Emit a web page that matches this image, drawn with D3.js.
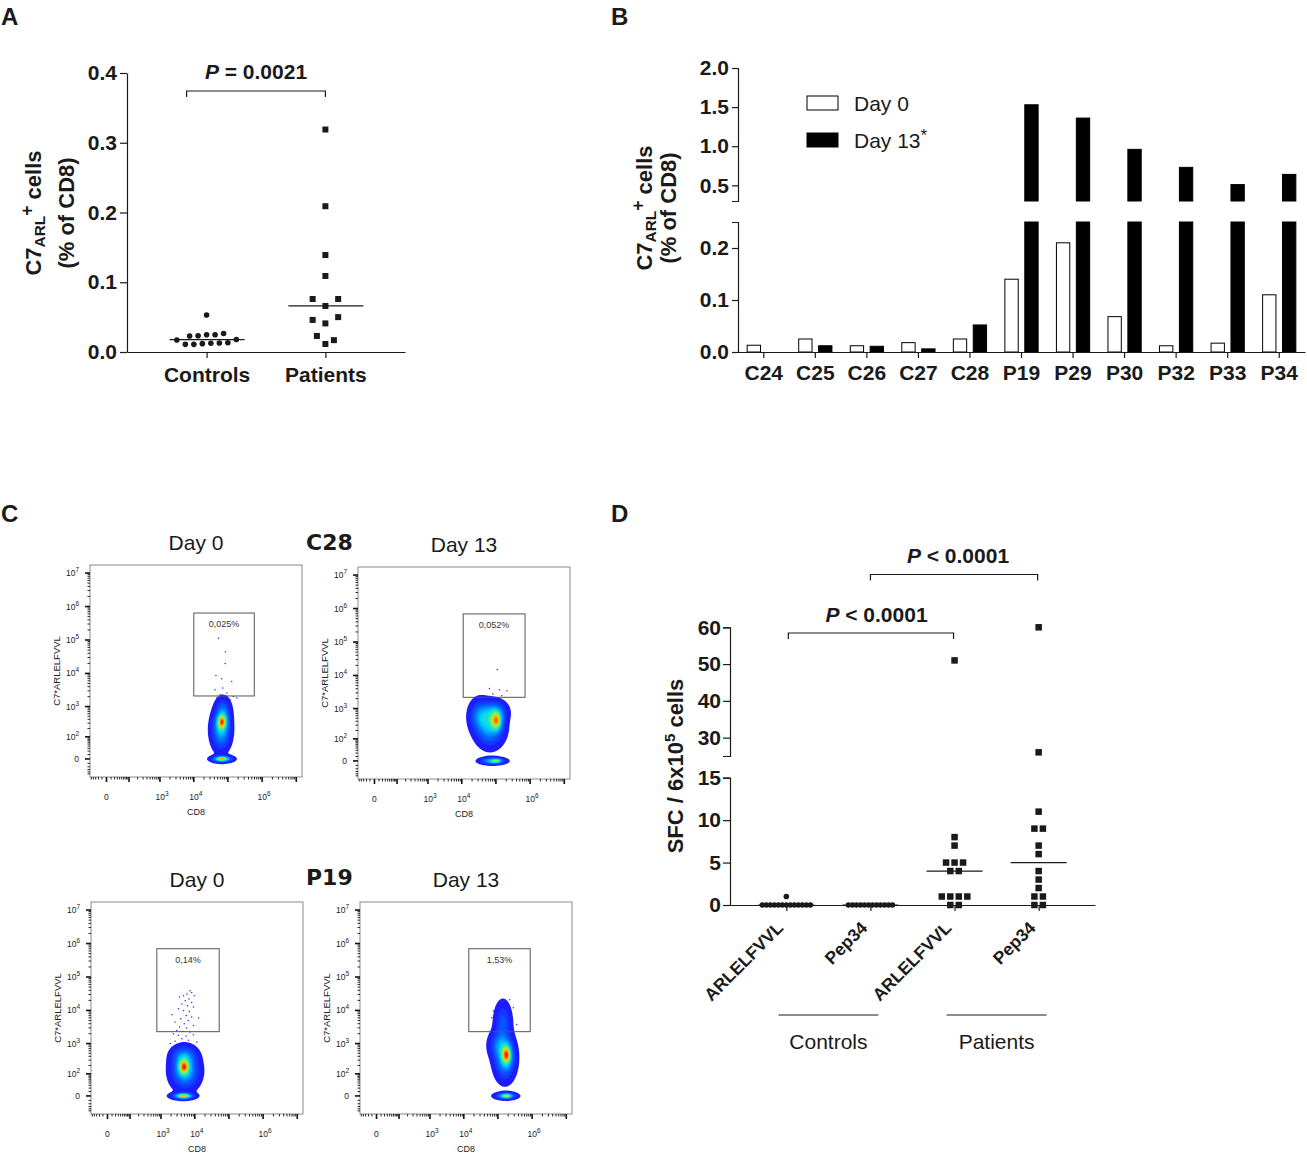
<!DOCTYPE html>
<html>
<head>
<meta charset="utf-8">
<script src="https://cdn.jsdelivr.net/npm/d3@7"></script>
<style>
  body { margin: 0; background: #fff; }
  svg { font-family: Arial, "Liberation Sans", Helvetica, sans-serif; }
</style>
</head>
<body>
<svg id="fig" width="1307" height="1155"></svg>
<script>
// ---------- A : C7ARL+ cells, % of CD8 ----------
const groupsA = ['Controls', 'Patients'];
const controlsA = [0.011, 0.011, 0.012, 0.0125, 0.013, 0.0133, 0.0172, 0.018,
                   0.0229, 0.0234, 0.0248, 0.0248, 0.0265, 0.053];
const patientsA = [0.0115, 0.017, 0.023, 0.041, 0.046, 0.05, 0.066,
                   0.076, 0.076, 0.109, 0.139, 0.209, 0.319];
const ticksA = [0, 0.1, 0.2, 0.3, 0.4];
const pTextA = '= 0.0021';

// ---------- B : per donor, day 0 / day 13 ----------
const donorsB = ['C24', 'C25', 'C26', 'C27', 'C28', 'P19', 'P29', 'P30', 'P32', 'P33', 'P34'];
const seriesB = ['Day 0', 'Day 13'];
const day0B  = [0.013, 0.025, 0.012, 0.018, 0.025, 0.14, 0.21, 0.068, 0.012, 0.017, 0.11];
const day13B = [0, 0.012, 0.011, 0.006, 0.052, 1.53, 1.36, 0.96, 0.73, 0.51, 0.64];
const ticksBLow  = [0, 0.1, 0.2];
const ticksBHigh = [0.5, 1.0, 1.5, 2.0];

// ---------- C : flow plots (C28, P19 x day 0, day 13) ----------
const flowSamples = ['C28', 'P19'];
const flowDays = ['Day 0', 'Day 13'];
const flowGateLabels = ['0,025%', '0,052%', '0,14%', '1,53%'];
// gate: [CD8 min, CD8 max, C7 min, C7 max]
const flowGates = [
    [1.0e4, 5.9e5, 2.1e3, 6.4e5],
    [1.1e4, 7.1e5, 2.2e3, 6.9e5],
    [7.5e2, 5.2e4, 2.3e3, 7.0e5],
    [1.4e4, 8.8e5, 2.3e3, 7.0e5]
];
// density components: [CD8, C7, spread x, spread y, weight]
const flowPopulations = [
    [[6.3e4, 180, 5.5, 11, 0.45], [7.2e4, 680, 4.5, 8, 0.25], [6.7e4, 330, 3, 5, 0.7],
     [6.7e4, 0, 6, 2, 0.55], [6.7e4, 0, 3.5, 1.2, 0.5]],
    [[6.7e4, 283, 8, 11, 0.45], [3.4e4, 590, 6, 9, 0.3], [1.05e5, 410, 3.5, 6, 0.7],
     [9e4, 800, 7, 6, 0.3], [8e4, 0, 7, 2, 0.5], [1.05e5, 0, 3, 1.2, 0.45]],
    [[5.2e3, 128, 8, 10, 0.45], [4.8e3, 400, 7, 6, 0.3], [4.8e3, 178, 3.5, 5, 0.7],
     [4.5e3, 0, 6.5, 2, 0.55], [4.8e3, 0, 4, 1.2, 0.5]],
    [[1.6e5, 353, 6, 12, 0.45], [1.8e5, 442, 3, 6, 0.7], [1.4e5, 4200, 5, 12, 0.2],
     [1.1e5, 900, 6, 8, 0.25], [1.7e5, 0, 6, 2, 0.5], [1.8e5, 0, 3, 1.2, 0.45]]
];
// single events as decades [log10 CD8, log10 C7]
const flowEvents = [
    [[4.72,5.05],[4.93,4.65],[4.92,4.30],[4.65,3.94],[4.82,3.84],[4.85,3.56],[4.62,3.51],[5.11,3.76],
     [4.97,3.41],[4.77,3.36],[5.16,3.31],[4.67,3.26],[4.92,3.24],[5.06,3.21],[5.26,3.26]],
    [[5.04,4.18],[4.81,3.61],[5.10,3.57],[5.32,3.54],[4.91,3.44],[4.58,3.34],[5.17,3.39]],
    [[3.86,4.59],[3.77,4.49],[3.91,4.54],[3.67,4.44],[3.98,4.44],[3.55,4.40],[3.83,4.34],[3.72,4.29],
     [3.91,4.24],[3.62,4.19],[3.78,4.14],[3.96,4.10],[3.52,4.05],[3.67,4.00],[3.84,3.97],[3.33,3.87],
     [3.75,3.85],[3.91,3.80],[3.59,3.75],[3.81,3.70],[3.42,3.65],[3.69,3.60],[3.96,3.55],[3.55,3.50],
     [3.76,3.47],[4.11,3.77],[3.47,3.40],[3.65,3.37],[3.86,3.35],[3.37,3.30],[3.52,3.25],[3.74,3.23],
     [3.96,3.27],[3.62,3.15],[3.81,3.10],[3.42,3.07],[4.06,3.05],[3.28,3.00],[3.69,3.00],[3.91,2.95],
     [3.52,2.90],[3.76,2.87],[3.36,2.83],[4.01,2.83],[3.65,2.80],[3.86,2.77]],
    [[5.11,4.28],[5.34,4.32],[4.87,3.98],[5.45,4.08],[4.82,3.78],[5.55,3.58]]
];
const flowTicks = [0, 1e2, 1e3, 1e4, 1e5, 1e6, 1e7];
const flowXLabelled = [0, 1e3, 1e4, 1e6];

// ---------- D : SFC / 6x10^5 cells ----------
const cohortsD = ['Controls', 'Patients'];
const peptidesD = ['ARLELFVVL', 'Pep34'];
const ctrlArlD = [0, 0, 0, 0, 0, 0, 0, 0, 0, 0, 0, 0, 0, 1];
const ctrlPepD = [0, 0, 0, 0, 0, 0, 0, 0, 0, 0, 0, 0];
const patArlD = [0, 0, 1, 1, 1, 1, 4, 4, 5, 5, 5, 7, 8, 51];
const patPepD = [0, 0, 1, 1, 2, 3, 4, 6, 7, 9, 9, 11, 26, 60];
const ticksDLow  = [0, 5, 10, 15];
const ticksDHigh = [30, 40, 50, 60];
const pTextD = '< 0.0001';

// ------------------------------------------------
const FONT = 'Arial, "Liberation Sans", Helvetica, sans-serif';
const INK = '#1a1a1a';
const svg = d3.select('#fig');

function styleAxis(sel, size) {
    sel.selectAll('path, line').attr('stroke', INK).attr('stroke-width', 1.2);
    sel.selectAll('text')
        .attr('fill', INK)
        .attr('font-family', FONT)
        .attr('font-size', size || 21)
        .attr('font-weight', 'bold');
}

function letter(t, x, y) {
    svg.append('text').attr('x', x).attr('y', y).text(t)
        .attr('font-size', 24).attr('font-weight', 'bold').attr('fill', INK);
}

// GraphPad-like scatter: rows of near-equal values, centred, pushed out on overlap
function swarm(values, yOf, step, minDist) {
    let pts = values.map((v) => ({ v: v, y: yOf(v), dx: 0 })).sort((a, b) => b.y - a.y);
    let rows = [];
    pts.forEach((p) => {
        let row = rows[rows.length - 1];
        if (row && Math.abs(row[0].y - p.y) <= 3) row.push(p);
        else rows.push([p]);
    });
    let placed = [];
    let hits = (dx, y) => placed.some((q) => Math.hypot(q.dx - dx, q.y - y) < minDist);
    rows.forEach((row) => {
        let n = row.length;
        row.map((p, i) => ({ p: p, ideal: (i - (n - 1) / 2) * step }))
            .sort((a, b) => Math.abs(a.ideal) - Math.abs(b.ideal))
            .forEach((o) => {
                let dx = o.ideal;
                if (Math.abs(dx) < 1e-9) {
                    let k = 0;
                    while (hits(dx, o.p.y)) { k++; dx = (k % 2 ? 1 : -1) * Math.ceil(k / 2) * step; }
                } else {
                    let dir = Math.sign(dx);
                    while (hits(dx, o.p.y)) dx += dir * step;
                }
                o.p.dx = dx;
                placed.push(o.p);
            });
    });
    return pts;
}

function markers(g, pts, cx, shape, size) {
    if (shape === 'circle') {
        g.selectAll(null).data(pts).join('circle')
            .attr('cx', (d) => cx + d.dx).attr('cy', (d) => d.y)
            .attr('r', size).attr('fill', INK);
    } else {
        g.selectAll(null).data(pts).join('rect')
            .attr('x', (d) => cx + d.dx - size / 2).attr('y', (d) => d.y - size / 2)
            .attr('width', size).attr('height', size).attr('fill', INK);
    }
}

function bracket(g, x1, x2, y, drop, label, tx, ty) {
    g.append('path')
        .attr('d', `M${x1},${y + drop}V${y}H${x2}V${y + drop}`)
        .attr('fill', 'none').attr('stroke', INK).attr('stroke-width', 1.2);
    let t = g.append('text').attr('x', tx).attr('y', ty).attr('text-anchor', 'middle')
        .attr('font-size', 21).attr('font-weight', 'bold').attr('fill', INK);
    t.append('tspan').attr('font-style', 'italic').text('P');
    t.append('tspan').text(' ' + label);
}

function c7Label(g, x1, x2, cy, size) {
    let t1 = g.append('text').attr('transform', `translate(${x1},${cy}) rotate(-90)`)
        .attr('text-anchor', 'middle').attr('font-size', size).attr('font-weight', 'bold').attr('fill', INK);
    t1.append('tspan').text('C7');
    t1.append('tspan').attr('dy', size * 0.17).attr('font-size', size * 0.7).text('ARL');
    t1.append('tspan').attr('dy', -size * 0.52).attr('font-size', size * 0.8).text('+');
    t1.append('tspan').attr('dy', size * 0.35).text(' cells');
    g.append('text').attr('transform', `translate(${x2},${cy}) rotate(-90)`)
        .attr('text-anchor', 'middle').attr('font-size', size).attr('font-weight', 'bold')
        .attr('fill', INK).text('(% of CD8)');
}

// ---------------- panel A ----------------
function drawA() {
    let g = svg.append('g');
    let x = d3.scalePoint().domain(groupsA).range([127, 405]).padding(0.67);
    let y = d3.scaleLinear().domain([0, 0.4]).range([352, 73]);

    g.append('g').attr('transform', 'translate(127,0)')
        .call(d3.axisLeft(y).tickValues(ticksA).tickFormat(d3.format('.1f')).tickSize(7).tickSizeOuter(0).tickPadding(3))
        .call(styleAxis);
    g.append('g').attr('transform', 'translate(0,352)')
        .call(d3.axisBottom(x).tickSize(6).tickSizeOuter(0).tickPadding(9))
        .call(styleAxis);

    c7Label(g, 41, 74, 213, 22);

    let series = [controlsA, patientsA];
    series.forEach((vals, i) => {
        let cx = x(groupsA[i]);
        let pts = swarm(vals, y, 8.5, 8.3);
        markers(g, pts, cx, i === 0 ? 'circle' : 'square', i === 0 ? 2.8 : 6);
        let m = y(d3.median(vals));
        g.append('line').attr('x1', cx - 37).attr('x2', cx + 38).attr('y1', m).attr('y2', m)
            .attr('stroke', INK).attr('stroke-width', 1.2);
    });

    bracket(g, x('Controls') - 20, x('Patients'), 91, 6, pTextA, 256, 79);
}

// ---------------- panel B ----------------
function drawB() {
    let g = svg.append('g');
    let x0 = d3.scaleBand().domain(donorsB).range([738, 1305]);
    let x1 = d3.scaleBand().domain(seriesB).range([0, x0.bandwidth()]).paddingInner(0.33).paddingOuter(0.46);
    let yLow = d3.scaleLinear().domain([0, 0.25]).range([352, 222]);
    let yHigh = d3.scaleLinear().domain([0.3, 2.0]).range([201, 68]);

    g.append('g').attr('transform', 'translate(738,0)')
        .call(d3.axisLeft(yLow).tickValues(ticksBLow).tickFormat(d3.format('.1f')).tickSize(6).tickSizeOuter(6).tickPadding(3))
        .call(styleAxis);
    g.append('g').attr('transform', 'translate(738,0)')
        .call(d3.axisLeft(yHigh).tickValues(ticksBHigh).tickFormat(d3.format('.1f')).tickSize(6).tickSizeOuter(6).tickPadding(3))
        .call(styleAxis);

    let bars = [];
    donorsB.forEach((d, i) => {
        bars.push({ donor: d, s: seriesB[0], v: day0B[i] });
        bars.push({ donor: d, s: seriesB[1], v: day13B[i] });
    });
    bars = bars.filter((b) => b.v > 0);
    let fill = (b) => (b.s === seriesB[0] ? '#fff' : '#000');
    let bx = (b) => x0(b.donor) + x1(b.s);

    g.selectAll('rect.low').data(bars).join('rect').attr('class', 'low')
        .attr('x', bx).attr('width', x1.bandwidth())
        .attr('y', (b) => yLow(Math.min(b.v, 0.25)))
        .attr('height', (b) => yLow(0) - yLow(Math.min(b.v, 0.25)))
        .attr('fill', fill).attr('stroke', '#000').attr('stroke-width', 1);
    g.selectAll('rect.high').data(bars.filter((b) => b.v > 0.3)).join('rect').attr('class', 'high')
        .attr('x', bx).attr('width', x1.bandwidth())
        .attr('y', (b) => yHigh(b.v))
        .attr('height', (b) => yHigh(0.3) - yHigh(b.v))
        .attr('fill', fill).attr('stroke', '#000').attr('stroke-width', 1);

    g.append('g').attr('transform', 'translate(0,352)')
        .call(d3.axisBottom(x0).tickSize(6).tickSizeOuter(0).tickPadding(7))
        .call(styleAxis);

    c7Label(g, 652, 676, 208, 22);

    // legend
    seriesB.forEach((s, i) => {
        let ly = 96 + i * 37;
        g.append('rect').attr('x', 807).attr('y', ly).attr('width', 31).attr('height', 14)
            .attr('fill', i === 0 ? '#fff' : '#000').attr('stroke', '#000').attr('stroke-width', 1);
        let t = g.append('text').attr('x', 854).attr('y', ly + 15).attr('font-size', 21).attr('fill', INK).text(s);
        if (i === 1) t.append('tspan').attr('dy', -7).attr('font-size', 17).text('*');
    });
}

// ---------------- panel C ----------------
const densityLevels = d3.range(16).map((i) => 0.025 + i * 0.072);
const jet = d3.scaleLinear()
    .domain([0, 0.2, 0.4, 0.55, 0.7, 0.85, 1])
    .range(['#1c1cff', '#0070ff', '#00d0ff', '#30f0a0', '#b0f020', '#ffb000', '#ff1a00']);

function drawFlow(k, left, top) {
    const W = 212, H = 212;
    let g = svg.append('g').attr('transform', `translate(${left},${top})`);
    let x = d3.scaleSymlog().constant(28).domain([-57, 1.47e7]).range([0, W]);
    let y = d3.scaleSymlog().constant(28).domain([-69, 1.74e7]).range([H, 0]);

    g.append('clipPath').attr('id', 'clip' + k)
        .append('rect').attr('width', W).attr('height', H);

    // density of the CD8+ population
    let comps = flowPopulations[k].map((c) => ({ cx: x(c[0]), cy: y(c[1]), sx: c[2], sy: c[3], w: c[4] }));
    let grid = new Array(W * H);
    for (let j = 0; j < H; j++) {
        for (let i = 0; i < W; i++) {
            let s = 0;
            for (let c of comps) {
                let dx = (i + 0.5 - c.cx) / c.sx, dy = (j + 0.5 - c.cy) / c.sy;
                s += c.w * Math.exp(-0.5 * (dx * dx + dy * dy));
            }
            grid[j * W + i] = s;
        }
    }
    let contours = d3.contours().size([W, H]).thresholds(densityLevels)(grid);
    let cloud = g.append('g').attr('clip-path', `url(#clip${k})`);
    cloud.selectAll('path').data(contours).join('path')
        .attr('d', d3.geoPath()).attr('fill', (d, i) => jet(i / (densityLevels.length - 1)));
    cloud.selectAll('circle').data(flowEvents[k]).join('circle')
        .attr('cx', (e) => x(Math.pow(10, e[0]))).attr('cy', (e) => y(Math.pow(10, e[1])))
        .attr('r', 0.75).attr('fill', '#2a2aff');

    // frame
    g.append('rect').attr('width', W).attr('height', H)
        .attr('fill', 'none').attr('stroke', '#8a8a8a').attr('stroke-width', 1);

    // gate
    let gate = flowGates[k];
    g.append('rect')
        .attr('x', x(gate[0])).attr('y', y(gate[3]))
        .attr('width', x(gate[1]) - x(gate[0])).attr('height', y(gate[2]) - y(gate[3]))
        .attr('fill', 'none').attr('stroke', '#555').attr('stroke-width', 1);
    g.append('text').attr('x', (x(gate[0]) + x(gate[1])) / 2).attr('y', y(gate[3]) + 14)
        .attr('text-anchor', 'middle').attr('font-size', 9).attr('fill', '#333').text(flowGateLabels[k]);

    // ticks (biexponential-like)
    let minor = [-50, -40, -30, -20, -10];
    for (let e = 1; e <= 6; e++) for (let m = 1; m <= 9; m++) if (m > 1 || e === 1) minor.push(m * Math.pow(10, e));
    minor = minor.filter((v) => flowTicks.indexOf(v) < 0);
    let ax = g.append('g').attr('stroke', '#111').attr('stroke-width', 0.9);
    minor.forEach((v) => {
        ax.append('line').attr('x1', -2.5).attr('x2', 0).attr('y1', y(v)).attr('y2', y(v));
        ax.append('line').attr('y1', H).attr('y2', H + 2.5).attr('x1', x(v)).attr('x2', x(v));
    });
    flowTicks.forEach((v) => {
        ax.append('line').attr('x1', -5).attr('x2', 0).attr('y1', y(v)).attr('y2', y(v)).attr('stroke-width', 1.6);
        ax.append('line').attr('y1', H).attr('y2', H + 5).attr('x1', x(v)).attr('x2', x(v)).attr('stroke-width', 1.6);
    });

    let tickText = (sel, v) => {
        if (v === 0) { sel.text('0'); return; }
        sel.append('tspan').text('10');
        sel.append('tspan').attr('dy', -4).attr('font-size', 6.5).text(Math.round(Math.log10(v)));
    };
    flowTicks.forEach((v) => {
        let t = g.append('text').attr('x', -11).attr('y', y(v) + 3)
            .attr('text-anchor', 'end').attr('font-size', 8.5).attr('fill', '#222');
        tickText(t, v);
    });
    flowXLabelled.forEach((v) => {
        let t = g.append('text').attr('x', x(v) + (v === 0 ? 0 : 2)).attr('y', H + 23)
            .attr('text-anchor', 'middle').attr('font-size', 8.5).attr('fill', '#222');
        tickText(t, v);
    });

    g.append('text').attr('x', W / 2).attr('y', H + 38).attr('text-anchor', 'middle')
        .attr('font-size', 9).attr('fill', '#222').text('CD8');
    g.append('text').attr('transform', `translate(-30,${H / 2}) rotate(-90)`)
        .attr('text-anchor', 'middle').attr('font-size', 9.5).attr('fill', '#222').text('C7*ARLELFVVL');
    g.append('text').attr('x', W / 2).attr('y', -15).attr('text-anchor', 'middle')
        .attr('font-size', 21).attr('fill', INK).text(flowDays[k % 2]);
}

function drawC() {
    let frames = [[90, 565], [358, 567], [91, 902], [360, 902]];
    frames.forEach((f, k) => drawFlow(k, f[0], f[1]));
    flowSamples.forEach((s, i) => {
        svg.append('text').attr('x', 306).attr('y', i === 0 ? 550 : 885)
            .attr('font-family', '"DejaVu Sans", Verdana, sans-serif')
            .attr('font-size', 22).attr('font-weight', 'bold').attr('fill', INK).text(s);
    });
}

// ---------------- panel D ----------------
function drawD() {
    let g = svg.append('g');
    let keys = [];
    cohortsD.forEach((c) => peptidesD.forEach((p) => keys.push(c + '|' + p)));
    let valuesD = [ctrlArlD, ctrlPepD, patArlD, patPepD];
    let x = d3.scalePoint().domain(keys).range([730, 1095]).padding(0.67);
    let yLow = d3.scaleLinear().domain([0, 15]).range([905, 777.7]);
    let yHigh = d3.scaleLinear().domain([25, 60]).range([756, 627.3]);
    let yOf = (v) => (v >= 25 ? yHigh(v) : yLow(v));

    g.append('g').attr('transform', 'translate(730,0)')
        .call(d3.axisLeft(yLow).tickValues(ticksDLow).tickSize(7).tickSizeOuter(7).tickPadding(2))
        .call(styleAxis);
    g.append('g').attr('transform', 'translate(730,0)')
        .call(d3.axisLeft(yHigh).tickValues(ticksDHigh).tickSize(7).tickSizeOuter(7).tickPadding(2))
        .call(styleAxis);
    g.append('g').attr('transform', 'translate(0,905)')
        .call(d3.axisBottom(x).tickSize(6).tickSizeOuter(0).tickFormat(''))
        .call(styleAxis);

    keys.forEach((k, i) => {
        let cx = x(k);
        let ctrl = i < 2;
        let pts = ctrl ? swarm(valuesD[i], yOf, 4.0, 3.9) : swarm(valuesD[i], yOf, 8.5, 8.3);
        markers(g, pts, cx, ctrl ? 'circle' : 'square', ctrl ? 2.8 : 6.5);
        let m = yOf(d3.median(valuesD[i]));
        g.append('line').attr('x1', cx - 28).attr('x2', cx + 28).attr('y1', m).attr('y2', m)
            .attr('stroke', INK).attr('stroke-width', 1.2);
        g.append('text').attr('transform', `translate(${cx - 2},929) rotate(-45)`)
            .attr('text-anchor', 'end').attr('font-size', 17.5).attr('font-weight', 'bold')
            .attr('fill', INK).text(k.split('|')[1]);
    });

    cohortsD.forEach((c) => {
        let a = x(c + '|' + peptidesD[0]), b = x(c + '|' + peptidesD[1]);
        let mid = (a + b) / 2;
        g.append('line').attr('x1', mid - 50).attr('x2', mid + 50).attr('y1', 1015).attr('y2', 1015)
            .attr('stroke', INK).attr('stroke-width', 1.2);
        g.append('text').attr('x', mid).attr('y', 1049).attr('text-anchor', 'middle')
            .attr('font-size', 21).attr('fill', INK).text(c);
    });

    g.append('text').attr('transform', 'translate(683,766) rotate(-90)')
        .attr('text-anchor', 'middle').attr('font-size', 22).attr('font-weight', 'bold').attr('fill', INK)
        .call((t) => {
            t.append('tspan').text('SFC / 6x10');
            t.append('tspan').attr('dy', -8).attr('font-size', 15).text('5');
            t.append('tspan').attr('dy', 8).text(' cells');
        });

    bracket(g, x(keys[0]) + 2, x(keys[2]) - 1, 633, 6, pTextD, 876.5, 622);
    bracket(g, x(keys[1]), x(keys[3]) - 1, 574.5, 6, pTextD, 958, 563);
}

letter('A', 1, 25);
letter('B', 611, 25);
letter('C', 1, 522);
letter('D', 611, 522);
drawA();
drawB();
drawC();
drawD();
</script>
</body>
</html>
